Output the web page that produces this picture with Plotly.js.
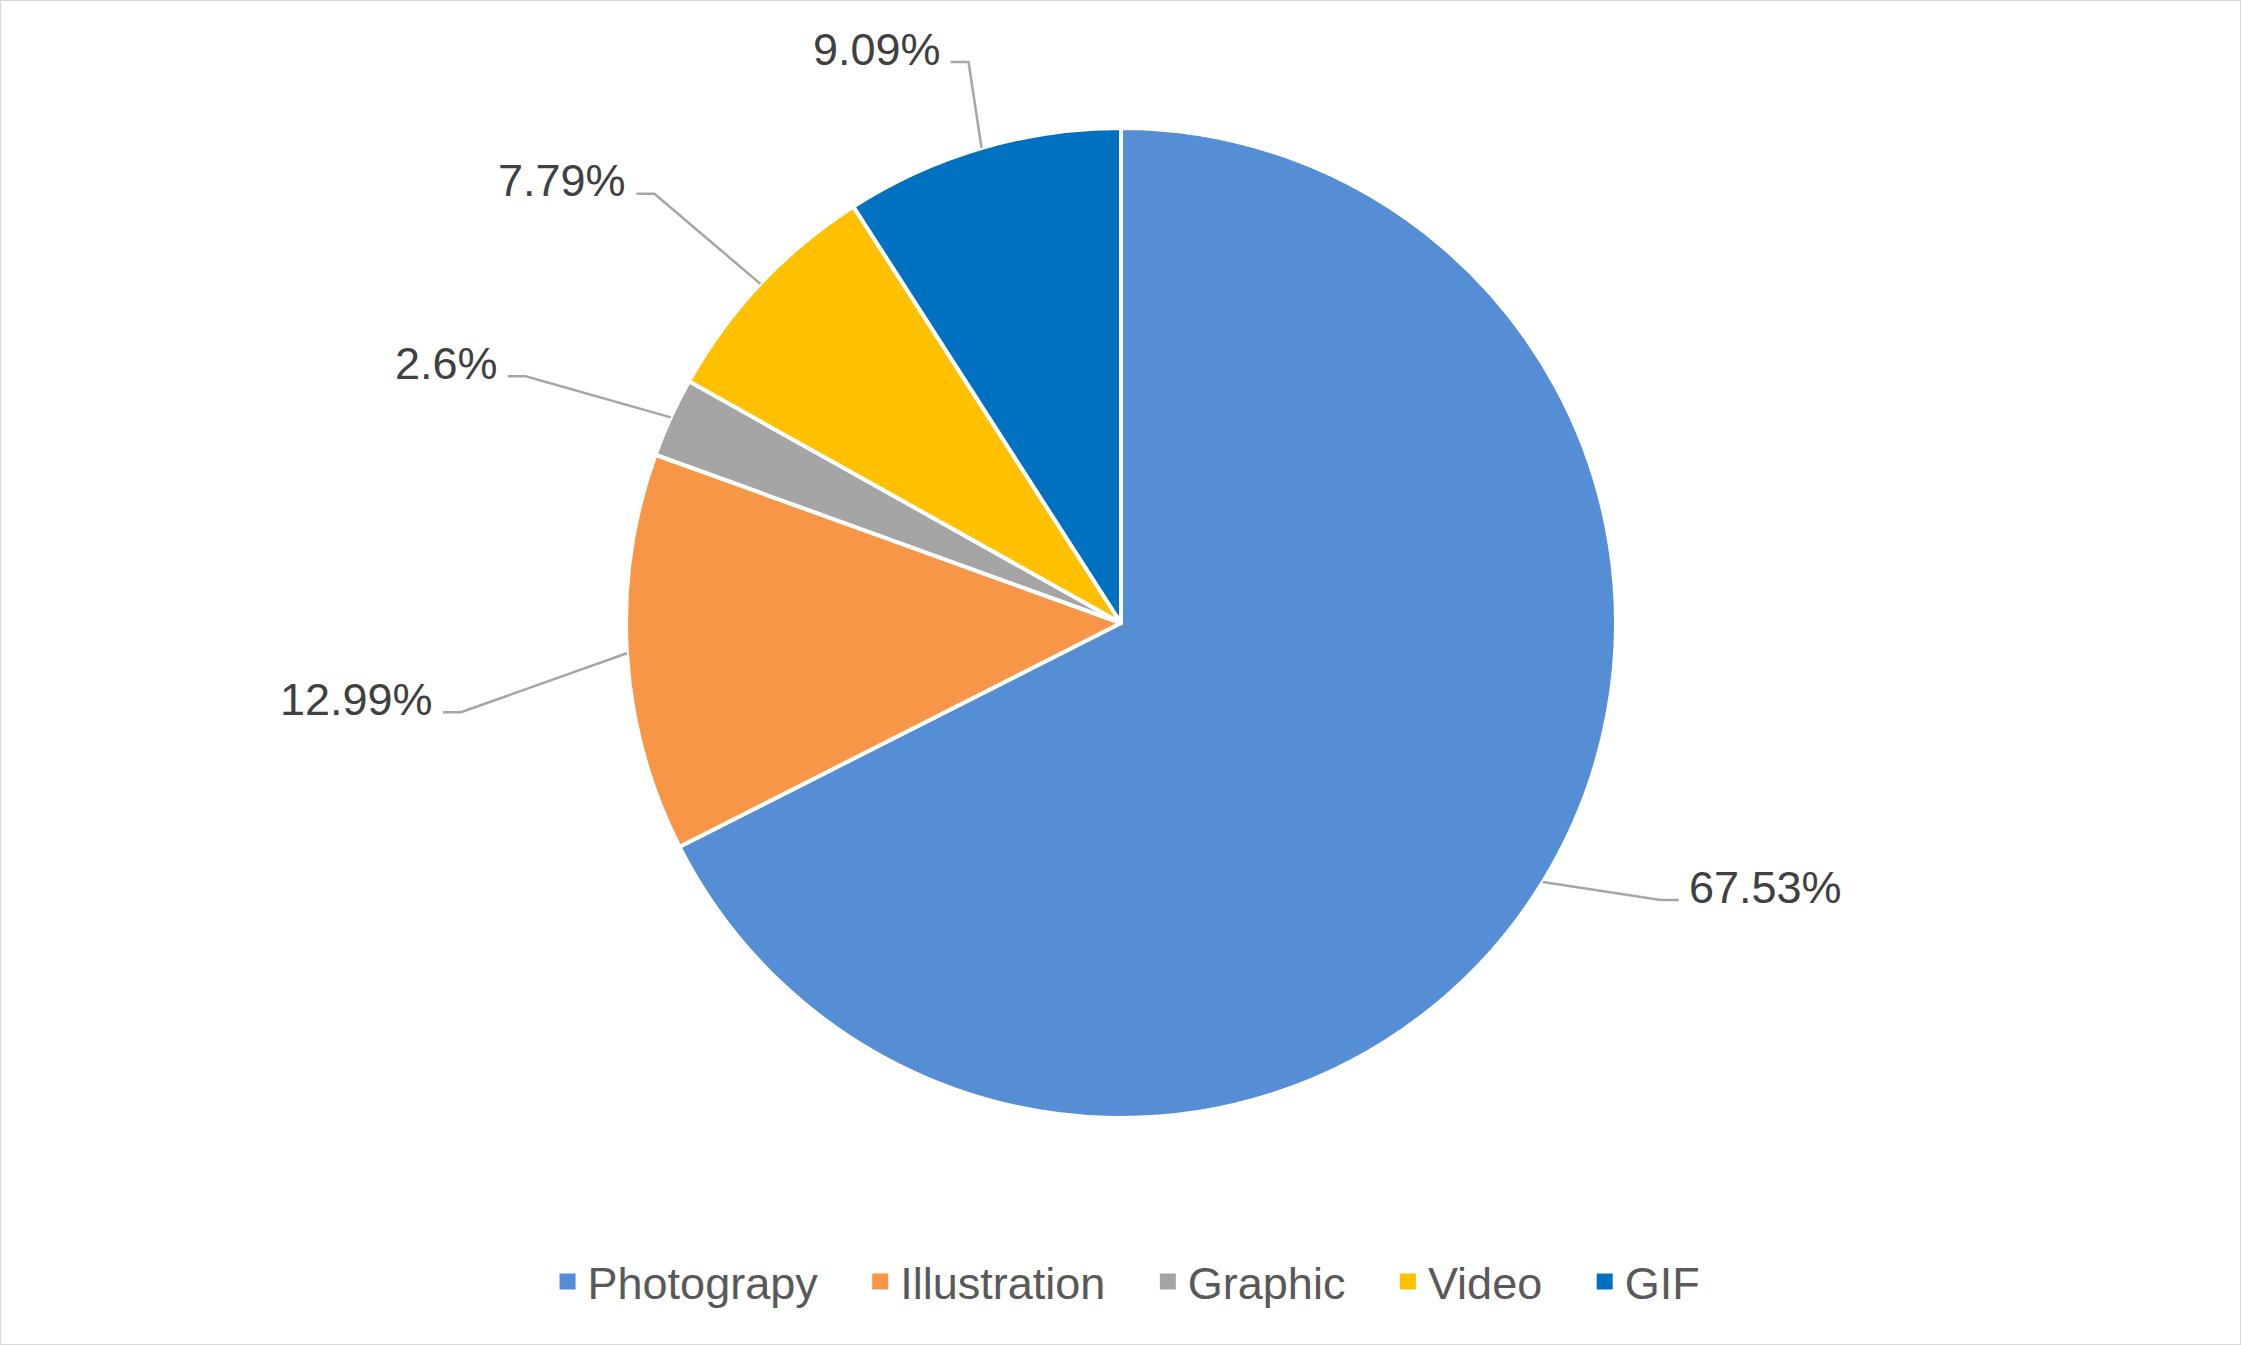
<!DOCTYPE html>
<html>
<head>
<meta charset="utf-8">
<script src="https://cdn.plot.ly/plotly-3.0.1.min.js"></script>
<style>html,body{margin:0;padding:0;background:#fff}</style>
</head>
<body>
<div id="plot" style="width:2241px;height:1345px"></div>
<script>
// posts by content type (77 in total)
const categories = ['Photograpy', 'Illustration', 'Graphic', 'Video', 'GIF'];
const counts = [52, 10, 2, 6, 7];
const colors = ['#558ED5', '#F79646', '#A5A5A5', '#FFC000', '#0070C0'];

// label text like Excel: 2 decimals, trailing zeros dropped
const total = counts.reduce((a, b) => a + b, 0);
const pctLabels = counts.map(c => (+(c / total * 100).toFixed(2)) + '%');

// page / pie geometry in pixels
const W = 2241, H = 1345;
const CX = 1121, CY = 623, R = 495;

// where each leader line bends, relative to the slice edge (px)
const leaderBend = [[118, 18], [-166, 59], [-145, -41], [-106, -90], [-13, -86]];
const stubLen = 18, textGap = 8;

const px = x => x / W;
const py = y => 1 - y / H;

const fontFamily = 'Liberation Sans, Arial, sans-serif';
const font = {family: fontFamily, size: 45, color: '#404040'};

let shapes = [], annotations = [];
let cum = 0;
counts.forEach((c, i) => {
    let mid = (cum + c / 2) / total * 2 * Math.PI;
    cum += c;
    let ex = CX + R * Math.sin(mid), ey = CY - R * Math.cos(mid);
    let bx = ex + leaderBend[i][0], by = ey + leaderBend[i][1];
    let dir = leaderBend[i][0] < 0 ? -1 : 1;
    let sx = bx + dir * stubLen;
    shapes.push({
        type: 'path', xref: 'paper', yref: 'paper',
        path: 'M' + px(ex) + ',' + py(ey) + ' L' + px(bx) + ',' + py(by) + ' L' + px(sx) + ',' + py(by),
        line: {color: '#A6A6A6', width: 2.5}
    });
    annotations.push({
        xref: 'paper', yref: 'paper',
        x: px(sx + dir * textGap), y: py(by - 13),
        xanchor: dir < 0 ? 'right' : 'left', yanchor: 'middle',
        text: pctLabels[i], showarrow: false, font: font
    });
});

// outer frame
shapes.push({type: 'rect', xref: 'paper', yref: 'paper', x0: 0, y0: 0, x1: 1, y1: 1,
    line: {color: '#D9D9D9', width: 2}});

let pie = {
    type: 'pie',
    labels: categories,
    values: counts,
    sort: false,
    direction: 'clockwise',
    rotation: 0,
    textinfo: 'none',
    hoverinfo: 'label+percent',
    showlegend: false,
    marker: {colors: colors, line: {color: '#FFFFFF', width: 4}},
    domain: {x: [px(CX - R), px(CX + R)], y: [py(CY + R), py(CY - R)]}
};

// legend entries (empty traces, only to get square swatches in the legend)
let legendTraces = categories.map((name, i) => ({
    type: 'scatter',
    mode: 'markers',
    x: [null], y: [null],
    name: i < categories.length - 1 ? name + '\u00a0\u00a0\u00a0' : name,
    marker: {symbol: 'square', size: 16, color: colors[i]},
    hoverinfo: 'skip'
}));

let layout = {
    width: W,
    height: H,
    margin: {l: 0, r: 0, t: 0, b: 0},
    paper_bgcolor: '#FFFFFF',
    plot_bgcolor: 'rgba(0,0,0,0)',
    font: font,
    xaxis: {visible: false},
    yaxis: {visible: false},
    showlegend: true,
    legend: {
        orientation: 'h',
        x: 0.5027, xanchor: 'center',
        y: 0.047, yanchor: 'middle',
        font: {family: fontFamily, size: 45, color: '#595959'}
    },
    shapes: shapes,
    annotations: annotations
};

Plotly.newPlot('plot', [pie].concat(legendTraces), layout, {displayModeBar: false, staticPlot: true});
</script>
</body>
</html>
